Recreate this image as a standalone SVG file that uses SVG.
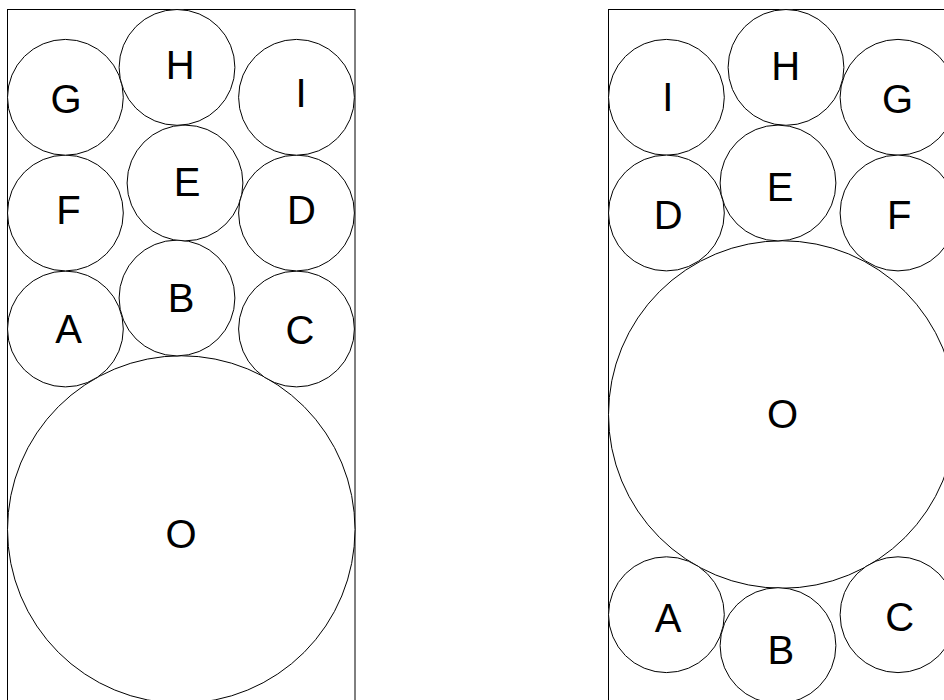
<svg xmlns="http://www.w3.org/2000/svg" width="944" height="700" viewBox="0 0 944 700">
<style>
.frame{fill:none;stroke:#000;stroke-width:1}
.c{fill:#fff;stroke:#000;stroke-width:1}
.t{font-family:"Liberation Sans",Arial,sans-serif;font-size:40px;fill:#000;text-anchor:middle}
</style>
<rect width="944" height="700" fill="#fff"/>
<g id="left">
<rect id="left-frame" class="frame" x="7.5" y="9.5" width="347.5" height="720"/>
<g id="L-O"><circle class="c" cx="181.25" cy="529.5" r="173.75"/><text class="t" x="181" y="548">O</text></g>
<g id="L-A"><circle class="c" cx="65.4" cy="329" r="57.9"/><text class="t" x="68.5" y="343">A</text></g>
<g id="L-B"><circle class="c" cx="177" cy="298" r="57.9"/><text class="t" x="181" y="311.5">B</text></g>
<g id="L-C"><circle class="c" cx="296.5" cy="329" r="57.9"/><text class="t" x="300" y="343.5">C</text></g>
<g id="L-F"><circle class="c" cx="65.4" cy="213" r="57.9"/><text class="t" x="68.5" y="223.5">F</text></g>
<g id="L-E"><circle class="c" cx="185" cy="183" r="57.9"/><text class="t" x="187" y="196">E</text></g>
<g id="L-D"><circle class="c" cx="296.5" cy="213" r="57.9"/><text class="t" x="301.5" y="224">D</text></g>
<g id="L-G"><circle class="c" cx="65.4" cy="97.3" r="57.9"/><text class="t" x="66" y="112.5">G</text></g>
<g id="L-H"><circle class="c" cx="177" cy="67.4" r="57.9"/><text class="t" x="180.3" y="79">H</text></g>
<g id="L-I"><circle class="c" cx="296.5" cy="97.3" r="57.9"/><text class="t" x="301" y="106.7">I</text></g>
</g>
<g id="right">
<rect id="right-frame" class="frame" x="608.5" y="9.5" width="347.5" height="720"/>
<g id="R-O"><circle class="c" cx="782.25" cy="414.5" r="173.75"/><text class="t" x="782.5" y="428.3">O</text></g>
<g id="R-I"><circle class="c" cx="666.4" cy="97.3" r="57.9"/><text class="t" x="667.7" y="110.7">I</text></g>
<g id="R-H"><circle class="c" cx="786" cy="67.4" r="57.9"/><text class="t" x="785.8" y="80">H</text></g>
<g id="R-G"><circle class="c" cx="898" cy="97.3" r="57.9"/><text class="t" x="897.5" y="112.5">G</text></g>
<g id="R-D"><circle class="c" cx="666.4" cy="213" r="57.9"/><text class="t" x="668.3" y="229.3">D</text></g>
<g id="R-E"><circle class="c" cx="778" cy="183" r="57.9"/><text class="t" x="780" y="200.7">E</text></g>
<g id="R-F"><circle class="c" cx="898" cy="213" r="57.9"/><text class="t" x="899.3" y="229.3">F</text></g>
<g id="R-A"><circle class="c" cx="666.4" cy="614.7" r="57.9"/><text class="t" x="668" y="632.3">A</text></g>
<g id="R-B"><circle class="c" cx="778" cy="645.6" r="57.9"/><text class="t" x="780.8" y="664.3">B</text></g>
<g id="R-C"><circle class="c" cx="898" cy="614.7" r="57.9"/><text class="t" x="899.7" y="630.5">C</text></g>
</g>
<g id="connectors"/>
</svg>
